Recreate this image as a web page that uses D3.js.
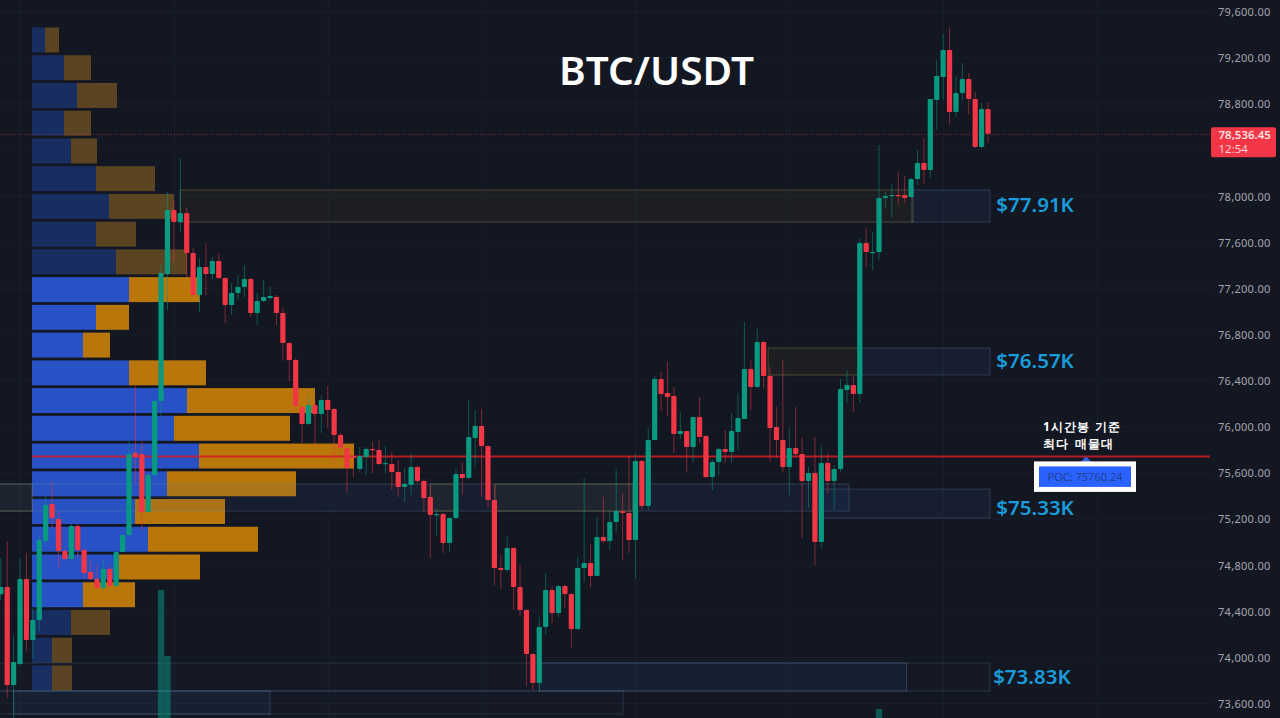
<!DOCTYPE html>
<html>
<head>
<meta charset="utf-8">
<script src="https://cdn.jsdelivr.net/npm/d3@7"></script>
<style>
  html, body { margin: 0; padding: 0; background: #131722; overflow: hidden; }
  text { font-family: "Noto Sans", sans-serif; }
</style>
</head>
<body>
<div id="chart"></div>
<script>
// candles, one value per hour
const opens = [
  74544,74605,73756,73938,74675,74146,74319,75004,75325,75195,
  74917,74848,75134,74926,74735,74675,74597,74762,74614,74909,
  75056,75767,75759,75256,75576,76218,77319,77874,77770,77848,
  77501,77137,77380,77319,77432,77285,77051,77155,77207,77276,
  76981,77085,77111,77120,76981,76721,76574,76166,76019,76184,
  76105,76227,76149,75924,75811,75741,75629,75733,75802,75793,
  75672,75672,75603,75473,75490,75646,75525,75386,75230,75238,
  74987,75204,75585,75551,75898,76002,75828,75360,74770,74753,
  74944,74605,74406,74025,73773,74259,74579,74380,74614,74545,
  74241,74770,74813,74701,75039,75004,75169,75264,75247,75013,
  75698,75308,75880,76409,76288,76262,75932,75958,75819,76079,
  75915,75559,75689,75802,75776,75950,76062,76496,76340,76730,
  76435,75993,75880,75646,75811,75759,75525,75594,74996,75681,
  75525,75629,76314,76357,76279,77588,77501,77510,77978,77996,
  78005,78005,77987,78143,78282,78221,78828,79028,79262,78724,
  78889,79010,78837,78421,78750];
const closes = [
  74605,73756,73955,74675,74146,74319,75013,75316,75204,74917,
  74848,75134,74926,74727,74675,74597,74762,74614,74909,75056,
  75759,75733,75256,75576,76218,77328,77874,77770,77848,77501,
  77137,77380,77319,77432,77285,77051,77155,77207,77276,76981,
  77085,77120,77129,76981,76721,76574,76175,76019,76184,76105,
  76227,76140,75924,75811,75637,75724,75741,75802,75793,75672,
  75681,75603,75473,75499,75646,75525,75377,75230,75238,74987,
  75204,75585,75551,75906,76002,75828,75360,74770,74753,74944,
  74605,74406,74025,73773,74259,74579,74380,74614,74545,74241,
  74770,74813,74701,75039,75004,75169,75264,75247,75013,75698,
  75308,75880,76409,76279,76253,75932,75958,75819,76079,75906,
  75559,75689,75802,75776,75958,76071,76496,76340,76730,76435,
  75984,75880,75646,75811,75759,75525,75594,74996,75681,75525,
  75629,76322,76357,76279,77588,77510,77510,77978,77996,78005,
  77996,77978,78143,78282,78221,78837,79036,79262,78724,78889,
  79010,78837,78421,78750,78536];
const highs = [
  74857,75004,74189,74857,74900,74423,75056,75394,75525,75264,
  74944,75152,75152,74944,74831,74796,74839,74796,74917,75056,
  75871,76348,75871,75594,76227,77397,78030,77961,78325,77892,
  77545,77458,77588,77467,77501,77293,77241,77311,77397,77285,
  77155,77267,77207,77137,77033,76730,76591,76175,76270,76218,
  76270,76348,76158,75941,75828,75750,75819,75819,75863,75880,
  75828,75776,75707,75637,75759,75663,75542,75490,75290,75247,
  75212,75629,75689,76227,76140,76149,75837,75490,74883,75048,
  74952,74796,74415,74033,74345,74727,74614,74623,74623,74553,
  74865,75551,74978,75212,75386,75264,75629,75420,75741,75767,
  75707,75984,76435,76470,76557,76340,76123,75958,76079,76253,
  75924,75707,75811,75967,76114,76288,76903,76574,76851,76738,
  76513,76166,76574,75984,76166,75906,75646,75906,75837,75767,
  75663,76409,76487,76435,77632,77718,77684,78438,78030,78100,
  78204,78169,78152,78394,78499,78837,79175,79401,79461,79036,
  79149,79062,78898,78802,78811];
const lows = [
  74493,73643,73470,73921,74050,73990,74224,74970,75117,74770,
  74839,74831,74857,74683,74666,74588,74579,74597,74597,74909,
  75048,75507,75100,75247,75568,76071,77007,77424,77684,77293,
  77120,76990,77137,77267,77276,76894,76964,77094,77120,76946,
  76877,77077,77094,76877,76565,76392,76158,75854,76010,75837,
  75941,75984,75698,75767,75420,75559,75603,75576,75594,75663,
  75594,75447,75386,75343,75403,75507,75256,74857,75048,74900,
  74909,75195,75403,75542,75646,75386,75290,74623,74588,74735,
  74406,74354,73747,73713,73695,74189,74293,74345,74423,74077,
  74233,74649,74605,74701,74987,74926,75082,74839,74900,74675,
  75273,75273,75880,76132,76088,75767,75889,75603,75681,75854,
  75551,75447,75576,75681,75681,75793,76062,76140,76331,76331,
  75689,75724,75603,75403,75733,75030,75290,74796,74944,75420,
  75273,75603,76201,76123,76201,77380,77354,77441,77892,77813,
  77918,77935,77978,78091,78100,78152,78568,78828,78620,78681,
  78828,78698,78412,78412,78455];

// volume profile rows, top row first
const profileBuy  = [13,32,45,32,39,64,77,64,84,97,64,51,97,155,142,167,135,103,116,87,51,39,20,20];
const profileSell = [14,27,40,27,26,59,65,40,71,71,33,27,77,128,116,155,129,90,110,81,52,39,20,20];
const profileTop = 79457, profileBottom = 73709;
const valueAreaFirst = 9, valueAreaLast = 20;

// only the volume bars that stick up into the window
const volumeBars = [25, 26, 137];
const volumeValues = [128, 62, 9];

// zones in bar numbers and prices
const zoneStart = [28, 142.1, 119.7, 134, -1, -1, 67, 77.1, 127, -1, 84, -1, 2];
const zoneEnd   = [142.3, 154.3, 134, 154.3, 4.9, 132.3, 71, 98.6, 154.3, 154.3, 141.3, 97.1, 42];
const zoneHigh  = [78048, 78048, 76678, 76678, 75499, 75499, 75499, 75499, 75455, 73947, 73947, 73704, 73704];
const zoneLow   = [77770, 77770, 76444, 76444, 75264, 75264, 75264, 75264, 75204, 73704, 73704, 73504, 73504];
const zoneKind  = ["olive","blue","olive","blue","olive","blue","olive","olive","blue","faint","blue","faint","blue"];

const levelLabels = ["$77.91K", "$76.57K", "$75.33K", "$73.83K"];
const levelPrices = [77920, 76570, 75295, 73825];
const levelBars   = [155.3, 155.3, 155.3, 154.8];

const priceTicks = [79600,79200,78800,78000,77600,77200,76800,76400,76000,75600,75200,74800,74400,74000,73600];
const gridPrices = d3.range(73600, 79601, 400);
const gridBars = [3, 27, 51, 75, 99, 123, 147, 171];

const lastPrice = 78536.45;
const countdown = "12:54";
const pocLevel = 75738;
const pocLabel = "POC: 75760.24";

const width = 1280, height = 718, axisLeft = 1210;
const upColor = "#089981", downColor = "#f23645";

const svg = d3.select("#chart").append("svg")
  .attr("width", width)
  .attr("height", height)
  .style("display", "block");

svg.append("rect").attr("width", width).attr("height", height).attr("fill", "#131722");

const x = d3.scaleLinear().domain([0, 154]).range([0.8, 988]);
const y = d3.scaleLinear().domain([79600, 73600]).range([11, 703]);

// grid
svg.append("g")
  .attr("transform", `translate(0,${height})`)
  .call(d3.axisBottom(x).tickValues(gridBars).tickSize(-height).tickFormat(""))
  .call(g => g.select(".domain").remove())
  .call(g => g.selectAll("line").attr("stroke", "#191e2b"));

svg.append("g")
  .call(d3.axisLeft(y).tickValues(gridPrices).tickSize(-axisLeft).tickFormat(""))
  .call(g => g.select(".domain").remove())
  .call(g => g.selectAll("line").attr("stroke", "#191e2b"));

// volume profile
const rowScale = d3.scaleBand()
  .domain(d3.range(profileBuy.length))
  .range([y(profileTop), y(profileBottom)])
  .paddingInner(0.1);
const volX = d3.scaleLinear().domain([0, 322]).range([32, 354]);

const profile = svg.append("g");
profile.selectAll("rect.buy").data(profileBuy).join("rect")
  .attr("class", "buy")
  .attr("x", volX(0))
  .attr("y", (d, i) => rowScale(i))
  .attr("width", d => volX(d) - volX(0))
  .attr("height", rowScale.bandwidth())
  .attr("fill", (d, i) => i >= valueAreaFirst && i <= valueAreaLast ? "#2751c4" : "#182d60");
profile.selectAll("rect.sell").data(profileSell).join("rect")
  .attr("class", "sell")
  .attr("x", (d, i) => volX(profileBuy[i]))
  .attr("y", (d, i) => rowScale(i))
  .attr("width", d => volX(d) - volX(0))
  .attr("height", rowScale.bandwidth())
  .attr("fill", (d, i) => i >= valueAreaFirst && i <= valueAreaLast ? "#b9760a" : "#5b4421");

// zones
const zoneFill = {olive: "rgba(125,115,45,0.09)", blue: "rgba(50,100,170,0.10)", faint: "rgba(50,100,170,0.03)"};
const zoneLine = {olive: "rgba(150,140,80,0.42)", blue: "rgba(120,150,185,0.28)", faint: "rgba(120,150,185,0.22)"};

svg.append("g").selectAll("rect").data(zoneStart).join("rect")
  .attr("x", d => x(d))
  .attr("y", (d, i) => y(zoneHigh[i]))
  .attr("width", (d, i) => x(zoneEnd[i]) - x(d))
  .attr("height", (d, i) => y(zoneLow[i]) - y(zoneHigh[i]))
  .attr("fill", (d, i) => zoneFill[zoneKind[i]])
  .attr("stroke", (d, i) => zoneLine[zoneKind[i]]);

// volume bars, scale is only used for their height
const volY = d3.scaleLinear().domain([0, 128]).range([height, 590]);
svg.append("g").selectAll("rect").data(volumeBars).join("rect")
  .attr("x", d => x(d) - 3.2)
  .attr("y", (d, i) => volY(volumeValues[i]))
  .attr("width", 6.4)
  .attr("height", (d, i) => height - volY(volumeValues[i]))
  .attr("fill", upColor)
  .attr("opacity", 0.5);

// POC line
svg.append("line")
  .attr("x1", 32).attr("x2", axisLeft)
  .attr("y1", y(pocLevel)).attr("y2", y(pocLevel))
  .attr("stroke", "#d41c26")
  .attr("stroke-width", 2)
  .attr("opacity", 0.85);

// last price line
svg.append("line")
  .attr("x1", 0).attr("x2", axisLeft)
  .attr("y1", y(lastPrice) + 0.8).attr("y2", y(lastPrice) + 0.8)
  .attr("stroke", downColor)
  .attr("stroke-dasharray", "1,2")
  .attr("opacity", 0.5);

// candles
const bars = d3.range(opens.length);
const candleColor = i => closes[i] >= opens[i] ? upColor : downColor;

svg.append("g").selectAll("line").data(bars).join("line")
  .attr("x1", i => x(i)).attr("x2", i => x(i))
  .attr("y1", i => y(highs[i])).attr("y2", i => y(lows[i]))
  .attr("stroke", candleColor)
  .attr("opacity", 0.5);

svg.append("g").selectAll("rect").data(bars).join("rect")
  .attr("x", i => x(i) - 2.6)
  .attr("y", i => y(Math.max(opens[i], closes[i])))
  .attr("width", 5.2)
  .attr("height", i => Math.max(1.2, Math.abs(y(opens[i]) - y(closes[i]))))
  .attr("rx", 0.8)
  .attr("fill", candleColor);

// price axis
svg.append("g")
  .attr("transform", `translate(${axisLeft + 8},1)`)
  .call(d3.axisRight(y).tickValues(priceTicks).tickSize(0).tickPadding(0).tickFormat(d3.format(",.2f")))
  .call(g => g.select(".domain").remove())
  .call(g => g.selectAll("text")
    .attr("fill", "#a3a6af")
    .style("font-size", "11px")
    .style("letter-spacing", "0.3px"));

// last price tag
const tag = svg.append("g").attr("transform", `translate(${axisLeft + 1},${y(lastPrice) - 6.5})`);
tag.append("rect").attr("width", 65).attr("height", 30).attr("rx", 2).attr("fill", downColor);
tag.append("text").attr("x", 7.5).attr("y", 12).attr("fill", "#ffe3e6")
  .style("font-size", "11.5px").style("font-weight", 600).text(d3.format(",.2f")(lastPrice));
tag.append("text").attr("x", 7.5).attr("y", 26).attr("fill", "#ffd0d5")
  .style("font-size", "11.5px").text(countdown);

// title
svg.append("text")
  .attr("x", 656.5).attr("y", 85)
  .attr("text-anchor", "middle")
  .attr("fill", "#ffffff")
  .style("font-size", "40.5px").style("font-weight", 600)
  .text("BTC/USDT");

// level labels
svg.append("g").selectAll("text").data(levelLabels).join("text")
  .attr("x", (d, i) => x(levelBars[i]))
  .attr("y", (d, i) => y(levelPrices[i]))
  .attr("dy", "0.36em")
  .attr("fill", "#1a9bdb")
  .style("font-size", "20.5px").style("font-weight", 600)
  .text(d => d);

// POC note
const note = svg.append("g").attr("fill", "#ffffff")
  .style("font-family", '"Noto Sans CJK KR", sans-serif')
  .style("font-size", "12px").style("font-weight", 700);
note.append("text").attr("x", 1043).attr("y", 431).style("word-spacing", "2px").style("letter-spacing", "0.9px").text("1시간봉 기준");
note.append("text").attr("x", 1043).attr("y", 448).style("word-spacing", "2px").style("letter-spacing", "0.9px").text("최다 매물대");

const pocY = y(pocLevel);
svg.append("path")
  .attr("d", d3.line()([[1080, pocY + 6], [1086, pocY], [1092, pocY + 6]]))
  .attr("fill", "#3a62d8");
svg.append("rect")
  .attr("x", 1036.5).attr("y", pocY + 7.5)
  .attr("width", 97).attr("height", 25.5)
  .attr("fill", "#2962ff")
  .attr("stroke", "#ffffff")
  .attr("stroke-width", 5);
svg.append("text")
  .attr("x", 1085).attr("y", pocY + 24.5)
  .attr("text-anchor", "middle")
  .attr("fill", "#24408f")
  .style("font-size", "11px")
  .text(pocLabel);
</script>
</body>
</html>
